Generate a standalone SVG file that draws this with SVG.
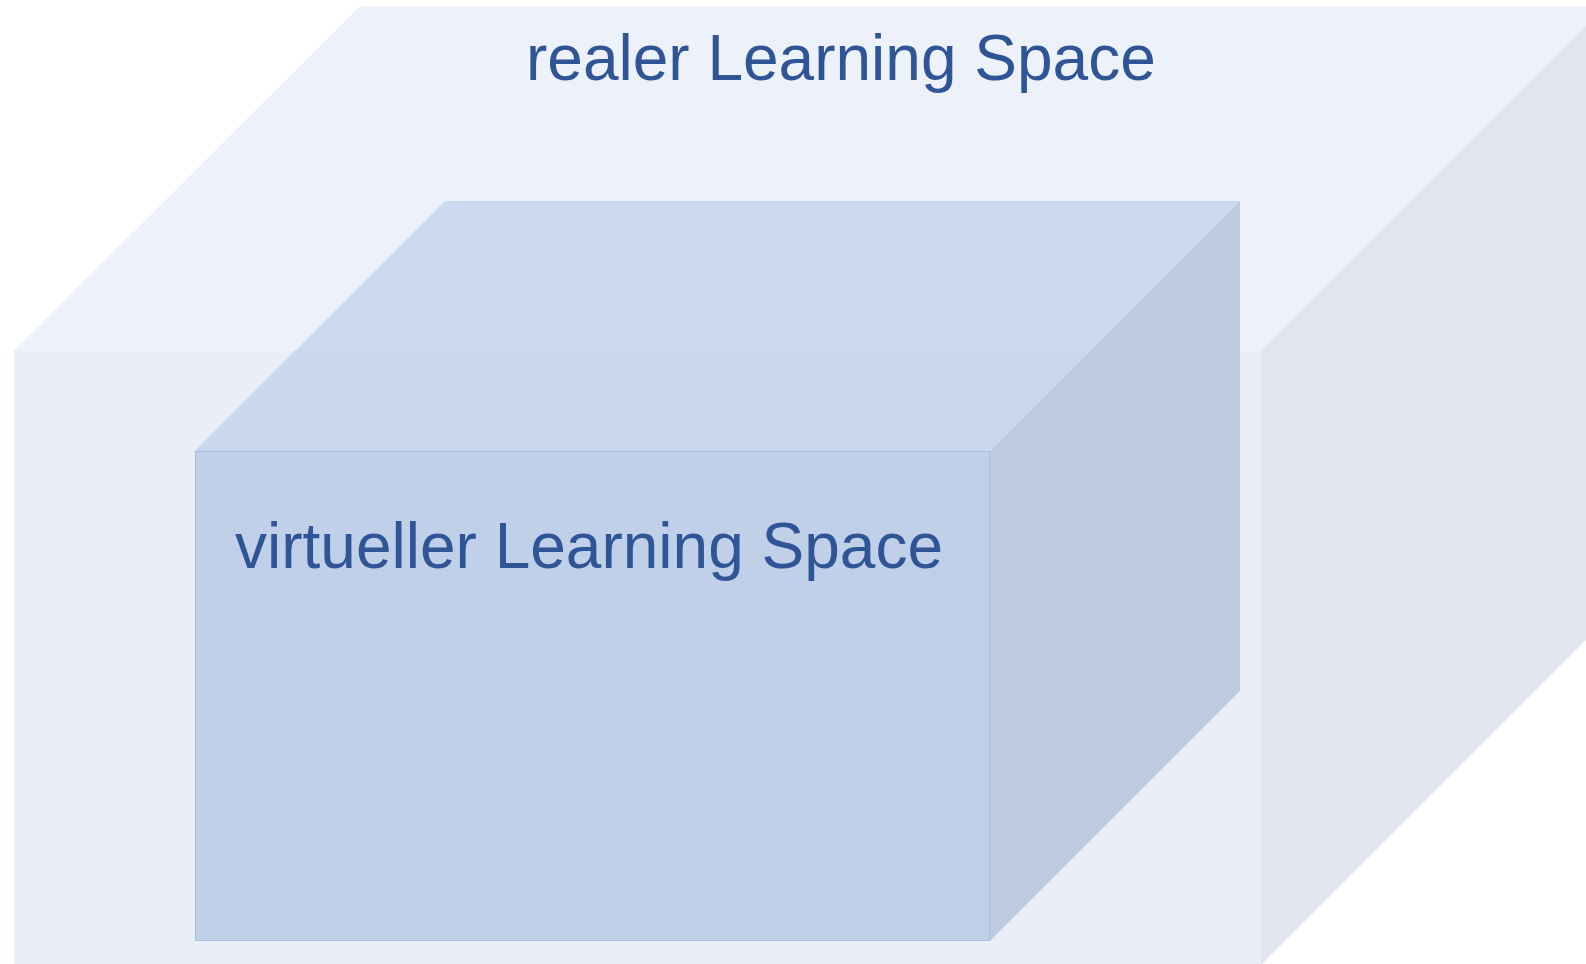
<svg xmlns="http://www.w3.org/2000/svg" width="1586" height="964" viewBox="0 0 1586 964">
<style>
.lbl{font-family:"Liberation Sans",Arial,sans-serif;font-size:64px;fill:#2F5597}
</style>
<rect x="0" y="0" width="1586" height="964" fill="#FFFFFF"/>
<g id="realer-space">
<polygon points="360,6 1606,6 1261,351 14,351" fill="#EDF2FA"/>
<rect x="14" y="351" width="1247" height="620" fill="#E9EEF7"/>
<polygon points="1261,351 1606,6 1606,620 1261,965" fill="#E1E6EE"/>
</g>
<g id="virtueller-space">
<polygon points="445,201 1240,201 990,451 195,451" fill="#CDD9EE"/>
<polygon points="295,351 1090,351 990,451 195,451" fill="#C9D7EC"/>
<polygon points="990,451 1240,201 1240,691 990,941" fill="#BECADF"/>
<rect x="195.5" y="451.5" width="794" height="489" fill="#C0D0E9" stroke="#AABDDC" stroke-width="1"/>
</g>
<text class="lbl" x="526" y="80">realer Learning Space</text>
<text class="lbl" x="235" y="568">virtueller Learning Space</text>
</svg>
